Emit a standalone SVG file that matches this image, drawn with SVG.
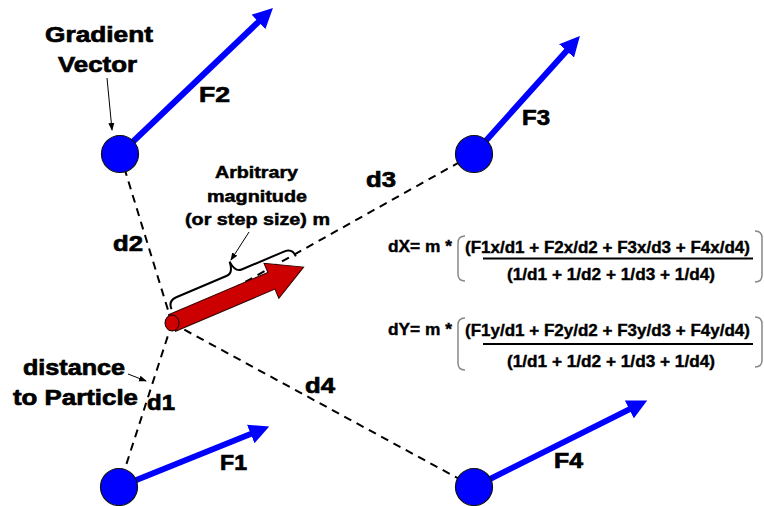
<svg xmlns="http://www.w3.org/2000/svg" width="764" height="506" viewBox="0 0 764 506">
<defs>
<style>
text{font-family:"Liberation Sans",Arial,sans-serif;font-weight:bold;fill:#000;stroke:#000}
.lbl{font-size:22px;stroke-width:0.7}
.sm{font-size:17px;stroke-width:0.5}
.eq{font-size:17px;stroke-width:0.4}
.dash{stroke:#000;stroke-width:2;stroke-dasharray:8 6;fill:none}
.force{stroke:#0000FF;stroke-width:6;fill:none;marker-end:url(#bh)}
.node{fill:#0000FF;stroke:#111;stroke-width:1.2}
.thin{stroke:#000;stroke-width:1;fill:none;marker-end:url(#sh)}
.brk{stroke:#888;stroke-width:1.5;fill:none}
</style>
<marker id="bh" markerUnits="userSpaceOnUse" markerWidth="20" markerHeight="20" viewBox="0 0 18 18" refX="6" refY="9" orient="auto">
<path d="M0,0 L18,9 L0,18 z" fill="#0000FF"/>
</marker>
<marker id="sh" markerUnits="userSpaceOnUse" markerWidth="8" markerHeight="8" viewBox="0 0 8 8" refX="7" refY="4" orient="auto">
<path d="M0,1 L8,4 L0,7 z" fill="#000"/>
</marker>
</defs>
<rect width="764" height="506" fill="#fff"/>
<g id="connectors">
<line class="dash" x1="172" y1="323" x2="120" y2="154"/>
<line class="dash" x1="172" y1="323" x2="474" y2="154"/>
<line class="dash" x1="172" y1="323" x2="119" y2="487"/>
<line class="dash" x1="172" y1="323" x2="474" y2="487"/>
<line class="force" x1="120" y1="154" x2="263.3" y2="17.3"/>
<line class="force" x1="474" y1="154" x2="571" y2="45.9"/>
<line class="force" x1="119" y1="487" x2="256.9" y2="431.5"/>
<line class="force" x1="474" y1="487" x2="635.3" y2="406.4"/>
<line class="thin" x1="107" y1="78" x2="112" y2="130"/>
<line class="thin" x1="128" y1="374" x2="146" y2="381"/>
<line class="thin" x1="249" y1="232" x2="231" y2="260"/>
</g>
<g id="step-arrow">
<g transform="translate(172,323) rotate(-23)">
<path d="M0,-9 L108,-9 L108,-19 L143,0 L108,19 L108,9 L0,9 z" fill="#CC0000" stroke="#300" stroke-width="1"/>
<path d="M5,-13 Q5,-22 14,-22 L69,-22 Q76,-22 77,-34 Q78,-22 85,-22 L131,-22 Q140,-22 140,-13" fill="none" stroke="#000" stroke-width="2"/>
</g>
</g>
<g id="particle">
<ellipse cx="172" cy="323" rx="7" ry="8" fill="#D00000" stroke="#000" stroke-width="1"/>
</g>
<g id="node-f2"><circle class="node" cx="120" cy="154" r="18.5"/></g>
<g id="node-f3"><circle class="node" cx="474" cy="154" r="18.5"/></g>
<g id="node-f1"><circle class="node" cx="119" cy="487" r="18.5"/></g>
<g id="node-f4"><circle class="node" cx="474" cy="487" r="18.5"/></g>
<g id="labels">
<text class="lbl" x="45" y="42" textLength="108" lengthAdjust="spacingAndGlyphs">Gradient</text>
<text class="lbl" x="58" y="72" textLength="79" lengthAdjust="spacingAndGlyphs">Vector</text>
<text class="lbl" x="199" y="102" textLength="31" lengthAdjust="spacingAndGlyphs">F2</text>
<text class="lbl" x="522" y="125" textLength="28" lengthAdjust="spacingAndGlyphs">F3</text>
<text class="lbl" x="220" y="470" textLength="27" lengthAdjust="spacingAndGlyphs">F1</text>
<text class="lbl" x="554" y="468" textLength="29" lengthAdjust="spacingAndGlyphs">F4</text>
<text class="lbl" x="113" y="251" textLength="30" lengthAdjust="spacingAndGlyphs">d2</text>
<text class="lbl" x="366" y="187" textLength="30" lengthAdjust="spacingAndGlyphs">d3</text>
<text class="lbl" x="147" y="410" textLength="28" lengthAdjust="spacingAndGlyphs">d1</text>
<text class="lbl" x="305" y="393" textLength="30" lengthAdjust="spacingAndGlyphs">d4</text>
<text class="lbl" x="23" y="375" textLength="102" lengthAdjust="spacingAndGlyphs">distance</text>
<text class="lbl" x="13" y="405" textLength="125" lengthAdjust="spacingAndGlyphs">to Particle</text>
<text class="sm" x="215" y="178" textLength="83" lengthAdjust="spacingAndGlyphs">Arbitrary</text>
<text class="sm" x="207" y="202" textLength="100" lengthAdjust="spacingAndGlyphs">magnitude</text>
<text class="sm" x="185" y="225" textLength="145" lengthAdjust="spacingAndGlyphs">(or step size) m</text>
</g>
<g id="equations">
<text class="eq" x="388" y="252" textLength="64" lengthAdjust="spacingAndGlyphs">dX= m *</text>
<text class="eq" x="465" y="253" textLength="285" lengthAdjust="spacingAndGlyphs">(F1x/d1 + F2x/d2 + F3x/d3 + F4x/d4)</text>
<line x1="483" y1="258.5" x2="753" y2="258.5" stroke="#000" stroke-width="2"/>
<text class="eq" x="507" y="280" textLength="208" lengthAdjust="spacingAndGlyphs">(1/d1 + 1/d2 + 1/d3 + 1/d4)</text>
<path class="brk" d="M465,236 Q458,236 458,243 L458,274 Q458,281 465,281"/>
<path class="brk" d="M755,231 Q762,231 762,238 L762,275 Q762,282 755,282"/>
<text class="eq" x="388" y="335" textLength="64" lengthAdjust="spacingAndGlyphs">dY= m *</text>
<text class="eq" x="465" y="336" textLength="285" lengthAdjust="spacingAndGlyphs">(F1y/d1 + F2y/d2 + F3y/d3 + F4y/d4)</text>
<line x1="483" y1="344" x2="753" y2="344" stroke="#000" stroke-width="2"/>
<text class="eq" x="507" y="367" textLength="208" lengthAdjust="spacingAndGlyphs">(1/d1 + 1/d2 + 1/d3 + 1/d4)</text>
<path class="brk" d="M465,318 Q458,318 458,325 L458,363 Q458,370 465,370"/>
<path class="brk" d="M755,317 Q762,317 762,324 L762,360 Q762,367 755,367"/>
</g>
</svg>
